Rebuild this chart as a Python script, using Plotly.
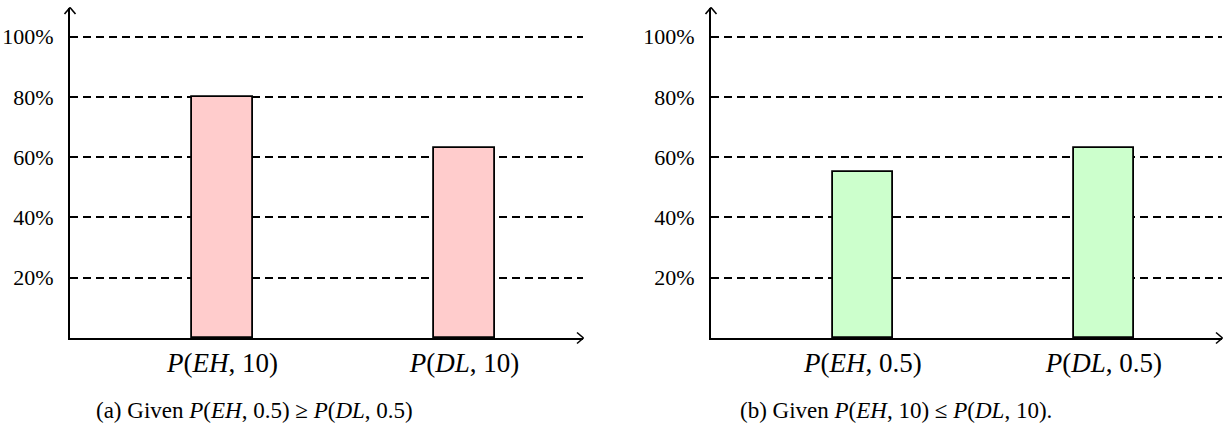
import plotly.graph_objects as go

# ---- data ----
cats_a = ["P(EH,10)", "P(DL,10)"]
labels_a = ["<i>P</i>(<i>EH</i>, 10)", "<i>P</i>(<i>DL</i>, 10)"]
vals_a = [80, 63]

cats_b = ["P(EH,0.5)", "P(DL,0.5)"]
labels_b = ["<i>P</i>(<i>EH</i>, 0.5)", "<i>P</i>(<i>DL</i>, 0.5)"]
vals_b = [55, 63]

y_ticks = [20, 40, 60, 80, 100]
y_ticktext = ["20%", "40%", "60%", "80%", "100%"]

caption_a = "(a) Given <i>P</i>(<i>EH</i>, 0.5) ≥ <i>P</i>(<i>DL</i>, 0.5)"
caption_b = "(b) Given <i>P</i>(<i>EH</i>, 10) ≤ <i>P</i>(<i>DL</i>, 10)."

W, H = 1228, 436
FONT = "Liberation Serif"

# layout geometry (pixels)
ax_a = (70, 583)
ax_b = (711, 1222)
y_bot, y_top = 338, 8

xdom_a = [ax_a[0] / W, ax_a[1] / W]
xdom_b = [ax_b[0] / W, ax_b[1] / W]
ydom = [(H - y_bot) / H, (H - y_top) / H]

fig = go.Figure()
fig.add_trace(go.Bar(x=cats_a, y=vals_a, width=0.25, xaxis="x", yaxis="y",
                     marker=dict(color="#FFCCCC", line=dict(color="black", width=1.8)),
                     hoverinfo="skip", showlegend=False))
fig.add_trace(go.Bar(x=cats_b, y=vals_b, width=0.25, xaxis="x2", yaxis="y2",
                     marker=dict(color="#CCFFCC", line=dict(color="black", width=1.8)),
                     hoverinfo="skip", showlegend=False))

xcommon = dict(type="category", range=[-0.63, 1.49], showline=True, linecolor="black",
               linewidth=1.8, showgrid=False, zeroline=False, ticks="",
               tickfont=dict(family=FONT, size=27, color="black"), ticklabelstandoff=0,
               fixedrange=True)
ycommon = dict(range=[0, (y_bot - y_top) / 3.015], showline=True, linecolor="black",
               linewidth=1.8, showgrid=True, gridcolor="black", gridwidth=1.8,
               griddash="8px,5px", zeroline=False, ticks="", tickvals=y_ticks,
               ticktext=y_ticktext, tickfont=dict(family=FONT, size=22, color="black"),
               ticklabelstandoff=10, fixedrange=True)

fig.update_layout(
    width=W, height=H,
    margin=dict(l=0, r=0, t=0, b=0),
    paper_bgcolor="white", plot_bgcolor="white",
    bargap=0,
    xaxis=dict(domain=xdom_a, anchor="y", tickvals=cats_a, ticktext=labels_a, **xcommon),
    yaxis=dict(domain=ydom, anchor="x", **ycommon),
    xaxis2=dict(domain=xdom_b, anchor="y2", tickvals=cats_b, ticktext=labels_b, **xcommon),
    yaxis2=dict(domain=ydom, anchor="x2", **ycommon),
    hovermode=False,
)

# arrow heads (chevrons) at axis ends
shapes = []
for (x0, x1) in (ax_a, ax_b):
    for s in (1, -1):
        shapes.append(dict(type="line", xref="paper", yref="paper",
                           xsizemode="pixel", ysizemode="pixel",
                           xanchor=x1 / W, yanchor=ydom[0],
                           x0=-6, y0=5.5 * s, x1=0.5, y1=0,
                           line=dict(color="black", width=1.6)))
    for s in (1, -1):
        shapes.append(dict(type="line", xref="paper", yref="paper",
                           xsizemode="pixel", ysizemode="pixel",
                           xanchor=x0 / W, yanchor=ydom[1],
                           x0=5.5 * s, y0=-6, x1=0, y1=0.5,
                           line=dict(color="black", width=1.6)))
fig.update_layout(shapes=shapes)

fig.add_annotation(text=caption_a, x=254 / W, y=(H - 410) / H, xref="paper", yref="paper",
                   showarrow=False, xanchor="center", yanchor="middle",
                   font=dict(family=FONT, size=23, color="black"))
fig.add_annotation(text=caption_b, x=896 / W, y=(H - 410) / H, xref="paper", yref="paper",
                   showarrow=False, xanchor="center", yanchor="middle",
                   font=dict(family=FONT, size=23, color="black"))

fig.write_html("out.html")
